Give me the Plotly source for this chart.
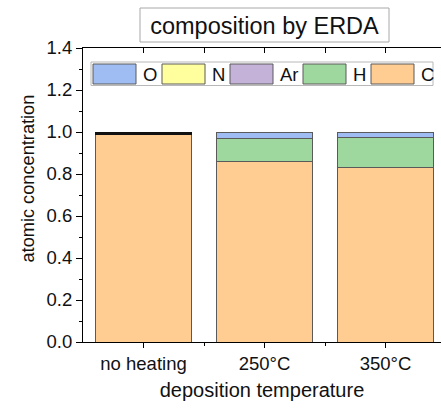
import plotly.graph_objects as go

categories = ["no heating", "250°C", "350°C"]
elements = ["C", "H", "Ar", "N", "O"]          # stacking order, bottom to top
C_vals = [0.990, 0.860, 0.833]
H_vals = [0.004, 0.110, 0.143]
Ar_vals = [0.002, 0.0, 0.0]
N_vals = [0.002, 0.0, 0.0]
O_vals = [0.002, 0.030, 0.024]
series_values = {"C": C_vals, "H": H_vals, "Ar": Ar_vals, "N": N_vals, "O": O_vals}
colors = {"O": "#9fbdf2", "N": "#ffff9e", "Ar": "#c4b2d9", "H": "#9fd89e", "C": "#ffcc91"}
legend_order = ["O", "N", "Ar", "H", "C"]
y_ticks = [0.0, 0.2, 0.4, 0.6, 0.8, 1.0, 1.2, 1.4]

W, H = 441, 410
L, R, T, B = 83, 441, 48, 342   # plot area in pixels
FONT = "Liberation Sans, Arial, sans-serif"

def px(x):
    return (x - L) / (R - L)

def py(y):
    return (B - y) / (B - T)

xpos = list(range(len(categories)))
fig = go.Figure()
for el in elements:
    # very thin layers get a dark outline so they read as a black band
    line_cols = ["#111111" if (el != "C" and v < 0.01) else "#5a5a5a"
                 for v in series_values[el]]
    fig.add_trace(go.Bar(
        x=xpos, y=series_values[el], name=el, width=0.8,
        marker=dict(color=colors[el], line=dict(color=line_cols, width=1)),
        showlegend=False))
# carrier trace for top mirrored axis
fig.add_trace(go.Scatter(x=[], y=[], xaxis="x2", showlegend=False, hoverinfo="skip"))

xrange = [-0.5, -0.5 + (R - L) / 121.0]

fig.update_layout(
    width=W, height=H,
    margin=dict(l=L, r=W - R, t=T, b=H - B),
    barmode="stack",
    plot_bgcolor="white", paper_bgcolor="white",
    font=dict(family=FONT, color="#111111"),
    title=dict(text="composition by ERDA", font=dict(size=23.5, family=FONT, color="#111"),
               xref="paper", x=px(264.5), xanchor="center",
               yref="container", y=1 - 25.5 / H, yanchor="middle"),
    xaxis=dict(range=xrange, tickmode="array", tickvals=xpos, ticktext=categories,
               ticks="outside", ticklen=5, tickcolor="black", showline=True,
               linecolor="black", linewidth=1, showgrid=False, zeroline=False,
               tickfont=dict(size=18.5),
               minor=dict(tickmode="array", tickvals=[0.5, 1.5, 2.5], ticks="outside",
                          ticklen=3, tickcolor="black"),
               title=dict(text="deposition temperature", font=dict(size=20), standoff=9)),
    xaxis2=dict(range=xrange, overlaying="x", side="top", anchor="y",
                tickmode="array", tickvals=xpos, showticklabels=False,
                ticks="inside", ticklen=5, tickcolor="black", showline=True,
                linecolor="black", linewidth=1, showgrid=False, zeroline=False,
                minor=dict(tickmode="array", tickvals=[0.5, 1.5, 2.5], ticks="inside",
                           ticklen=5, tickcolor="black")),
    yaxis=dict(range=[0, 1.4], tickmode="array", tickvals=y_ticks, tickformat=".1f",
               ticks="outside", ticklen=6, tickcolor="black", showline=True,
               linecolor="black", linewidth=1, showgrid=False, zeroline=False,
               tickfont=dict(size=18.5),
               minor=dict(dtick=0.1, ticks="outside", ticklen=3, tickcolor="black")),
)

# y axis title placed as in the reference
fig.add_annotation(text="atomic concentration", textangle=-90, showarrow=False,
                   xref="paper", yref="paper", x=px(27), y=py(178.5),
                   xanchor="center", yanchor="middle", font=dict(size=18.2))

# title box
shapes = [dict(type="rect", xref="paper", yref="paper",
               x0=px(140), x1=px(389), y0=py(42), y1=py(8),
               line=dict(color="#a8a8a8", width=1), fillcolor="rgba(0,0,0,0)", layer="above")]
# legend box
shapes.append(dict(type="rect", xref="paper", yref="paper",
                   x0=px(91), x1=px(433), y0=py(85.5), y1=py(62),
                   line=dict(color="#b8b8b8", width=1), fillcolor="white", layer="above"))
sw_x = [93, 162, 230, 303, 371]
for el, x0 in zip(legend_order, sw_x):
    shapes.append(dict(type="rect", xref="paper", yref="paper",
                       x0=px(x0), x1=px(x0 + 43), y0=py(84), y1=py(64),
                       line=dict(color="#5a5a5a", width=1), fillcolor=colors[el], layer="above"))
    fig.add_annotation(text=el, showarrow=False, xref="paper", yref="paper",
                       x=px(x0 + 48), y=py(74), xanchor="left", yanchor="middle",
                       font=dict(size=18.5))
fig.update_layout(shapes=shapes)

fig.write_html("out.html")
